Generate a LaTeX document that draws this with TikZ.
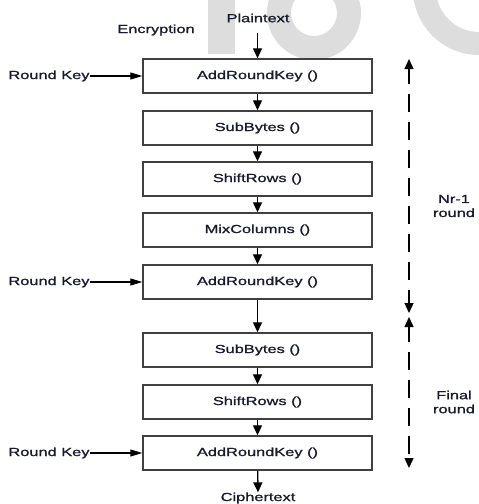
\documentclass[tikz,border=0pt]{standalone}
\usepackage{fontspec}
\setmainfont{Liberation Sans}[FakeStretch=1.4, FakeBold=1.2]
\usetikzlibrary{arrows.meta}
\definecolor{txt}{HTML}{1A1A2E}
\definecolor{edge}{HTML}{404040}
\definecolor{wm}{HTML}{DDDDDD}
\tikzset{
  lbl/.style={inner sep=0pt, text=txt, font=\fontsize{11.7pt}{14pt}\selectfont},
  box/.style={lbl, draw=edge, line width=1.4pt, minimum width=229pt, minimum height=34pt},
  arr/.style={line width=1.3pt, -{Triangle[length=10pt,width=9pt]}},
  karr/.style={line width=1.2pt, -{Triangle[length=12pt,width=7pt]}},
  darr/.style={line width=1.3pt, {Triangle[length=10pt,width=9pt]}-{Triangle[length=10pt,width=9pt]}, dash pattern=on 18pt off 10pt, dash phase=3pt}
}
\begin{document}
\begin{tikzpicture}[x={(1pt,0)}, y={(0,-1pt)}]
\useasboundingbox (0,0) rectangle (479,504);
% watermark
\begin{scope}
\clip (0,0) rectangle (479,504);
\fill[wm] (208,0) rectangle (235,54);
\fill[wm, even odd rule] (314,13) circle[radius=47pt] (314,13) circle[radius=23pt];
\fill[wm, even odd rule] (479,-11) circle[radius=66pt] (479,-11) circle[radius=43pt];
\end{scope}
% texts
\node[lbl] (enc) at (156,30) {Encryption};
\node[lbl] (plain) at (258,18) {Plaintext};
\node[lbl] (cipher) at (258,498) {Ciphertext};
\coordinate (p0) at (257.5,33);
% boxes
\node[box] (b1) at (257.5,76) {AddRoundKey ()};
\node[box] (b2) at (257.5,128) {SubBytes ()};
\node[box] (b3) at (257.5,179) {ShiftRows ()};
\node[box] (b4) at (257.5,230) {MixColumns ()};
\node[box] (b5) at (257.5,282) {AddRoundKey ()};
\node[box] (b6) at (257.5,350) {SubBytes ()};
\node[box] (b7) at (257.5,402) {ShiftRows ()};
\node[box] (b8) at (257.5,453) {AddRoundKey ()};
% round keys
\node[lbl] (k1) at (49,76) {Round Key};
\node[lbl] (k2) at (49,282) {Round Key};
\node[lbl] (k3) at (49,453) {Round Key};
\draw[karr] (k1) -- (b1);
\draw[karr] (k2) -- (b5);
\draw[karr] (k3) -- (b8);
% flow
\draw[arr] (p0) -- (b1);
\draw[arr] (b1) -- (b2);
\draw[arr] (b2) -- (b3);
\draw[arr] (b3) -- (b4);
\draw[arr] (b4) -- (b5);
\draw[arr] (b5) -- (b6);
\draw[arr] (b6) -- (b7);
\draw[arr] (b7) -- (b8);
\draw[arr] (b8) -- (cipher.north);
% round spans
\coordinate (d1) at (409,59);
\coordinate (d2) at (409,313);
\coordinate (d3) at (409,317);
\coordinate (d4) at (409,468);
\draw[darr] (d1) -- (d2);
\draw[darr] (d3) -- (d4);
\node[lbl, align=center] (nr) at (454,206) {Nr-1\\round};
\node[lbl, align=center] (fin) at (454,402) {Final\\round};
\end{tikzpicture}
\end{document}
